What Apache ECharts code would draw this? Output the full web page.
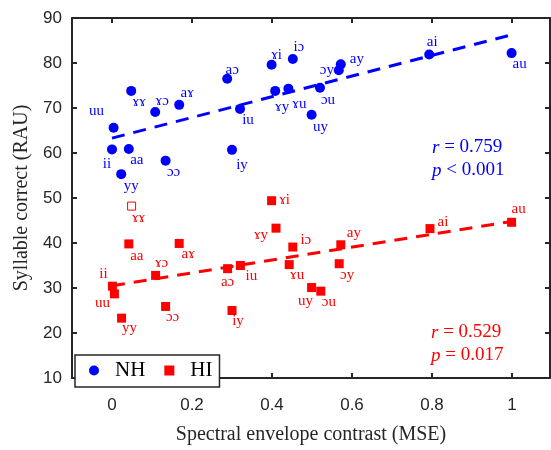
<!DOCTYPE html>
<html>
<head>
<meta charset="utf-8">
<script src="https://cdn.jsdelivr.net/npm/echarts@6/dist/echarts.min.js"></script>
<style>html,body{margin:0;padding:0;background:#fff;}#chart{width:551px;height:450px;}</style>
</head>
<body>
<div id="chart"></div>
<script>
// ---- data ----
const nhLabels = ['ɤɤ','ɤɔ','aɤ','uu','ii','aa','ɔɔ','yy','iy','iu','aɔ','ɤi','iɔ','ay','ɔy','ɤy','ɤu','ɔu','uy','ai','au'];
const nhX = [0.048,0.108,0.168,0.004,0.000,0.042,0.134,0.023,0.300,0.320,0.288,0.399,0.452,0.572,0.567,0.408,0.441,0.520,0.499,0.793,0.999];
const nhY = [73.8,69.1,70.7,65.6,60.8,60.9,58.3,55.3,60.7,69.8,76.5,79.6,80.9,79.7,78.4,73.8,74.3,74.5,68.5,81.9,82.2];

const hiLabels = ['ɤɤ','aa','aɤ','ɤɔ','ii','uu','yy','ɔɔ','aɔ','iu','iy','ɤi','ɤy','iɔ','ɤu','ay','ɔy','uy','ɔu','ai','au'];
const hiX = [0.049,0.042,0.168,0.109,0.001,0.006,0.024,0.134,0.289,0.321,0.300,0.399,0.410,0.452,0.443,0.572,0.568,0.499,0.522,0.795,0.999];
const hiY = [48.2,39.8,39.9,32.8,30.4,28.7,23.3,25.9,34.3,35.0,25.0,49.4,43.3,39.1,35.2,39.6,35.4,30.1,29.3,43.2,44.6];
const hiOpen = ['ɤɤ']; // hollow marker

const nhFit = [[0, 63.3], [1, 86.3]];
const hiFit = [[0, 30.5], [1, 44.8]];

const xTicks = [0, 0.2, 0.4, 0.6, 0.8, 1];
const yTicks = [10, 20, 30, 40, 50, 60, 70, 80, 90];

// ---- label placement (pixel offsets, label centre relative to marker) ----
const nhOffsets = [[8,11],[7,-11],[8,-12],[-17,-17],[-5,15],[8,11],[8,11],[10,12],[10,15],[8,11],[5,-9],[5,-10],[6,-12],[16,-5],[-12,0],[7,16],[11,15],[8,12],[9,12],[3,-12],[8,11]];
const hiOffsets = [[7,12],[8,12],[9,11],[6,-12],[-9,-12],[-12,9],[8,10],[7,11],[0,13],[11,11],[6,11],[13,-1],[-15,7],[13,-7],[8,10],[13,-12],[8,11],[-6,14],[8,11],[13,-7],[7,-13]];

const BLUE = '#0000FF', RED = '#FF0000', AX = '#262626';
const SERIF = '"Liberation Serif","Times New Roman",serif';
const SANS = '"Liberation Sans",Arial,Helvetica,sans-serif';

function buildData(xs, ys, names, offs, color, openSet) {
  return xs.map((x, i) => {
    const item = {
      name: names[i],
      value: [x, ys[i]],
      label: { offset: offs[i] }
    };
    if (openSet && openSet.indexOf(names[i]) >= 0) {
      item.itemStyle = { color: '#fff', borderColor: color, borderWidth: 1 };
      item.symbolSize = 8;
    }
    return item;
  });
}

const labelBase = (color) => ({
  show: true, position: 'inside', formatter: p => p.name,
  color: color, fontFamily: SERIF, fontSize: 15
});

const chart = echarts.init(document.getElementById('chart'), null, { renderer: 'canvas' });
const axisCommon = {
  type: 'value',
  splitLine: { show: false },
  axisLine: { show: true, onZero: false, lineStyle: { color: AX, width: 2 } },
  axisTick: { show: true, inside: true, length: 5, lineStyle: { color: AX, width: 2 } }
};
chart.setOption({
  animation: false,
  backgroundColor: '#fff',
  grid: { left: 72, right: 1, top: 18, bottom: 65, containLabel: false },
  xAxis: [
    Object.assign({}, axisCommon, {
      position: 'bottom', min: -0.1, max: 1.095,
      axisTick: Object.assign({}, axisCommon.axisTick, { customValues: xTicks }),
      axisLabel: { customValues: xTicks, formatter: v => String(v), margin: 19, fontSize: 17, color: AX, fontFamily: SANS },
      name: 'Spectral envelope contrast (MSE)', nameLocation: 'middle', nameGap: 47,
      nameTextStyle: { fontFamily: SERIF, fontSize: 20, color: AX }
    }),
    Object.assign({}, axisCommon, {
      position: 'top', min: -0.1, max: 1.095,
      axisTick: Object.assign({}, axisCommon.axisTick, { customValues: xTicks }),
      axisLabel: { show: false }
    })
  ],
  yAxis: [
    Object.assign({}, axisCommon, {
      position: 'left', min: 10, max: 90, interval: 10,
      axisLabel: { margin: 10, fontSize: 17, color: AX, fontFamily: SANS },
      name: 'Syllable correct (RAU)', nameLocation: 'middle', nameGap: 36,
      nameTextStyle: { fontFamily: SERIF, fontSize: 20, color: AX }
    }),
    Object.assign({}, axisCommon, {
      position: 'right', min: 10, max: 90, interval: 10,
      axisLabel: { show: false }
    })
  ],
  legend: {
    left: 75, top: 355, orient: 'horizontal',
    backgroundColor: '#fff', borderColor: AX, borderWidth: 1.5,
    padding: [5, 7, 6, 14], itemGap: 19, itemWidth: 10, itemHeight: 10,
    textStyle: { fontFamily: SERIF, fontSize: 21, color: '#000', padding: [0, 0, 0, 11] },
    data: [{ name: 'NH', icon: 'circle' }, { name: 'HI', icon: 'rect' }]
  },
  series: [
    {
      name: 'NH fit', type: 'line', data: nhFit, symbol: 'none', silent: true,
      lineStyle: { color: BLUE, width: 3, type: [13, 9] }, z: 1
    },
    {
      name: 'HI fit', type: 'line', data: hiFit, symbol: 'none', silent: true,
      lineStyle: { color: RED, width: 3, type: [13, 9] }, z: 1
    },
    {
      name: 'NH', type: 'scatter', symbol: 'circle', symbolSize: 10,
      itemStyle: { color: BLUE, opacity: 1 },
      label: labelBase(BLUE),
      data: buildData(nhX, nhY, nhLabels, nhOffsets, BLUE, null), z: 3
    },
    {
      name: 'HI', type: 'scatter', symbol: 'rect', symbolSize: 9,
      itemStyle: { color: RED, opacity: 1 },
      label: labelBase(RED),
      data: buildData(hiX, hiY, hiLabels, hiOffsets, RED, hiOpen), z: 3
    }
  ],
  graphic: [
    { type: 'text', left: 432, top: 138, style: { text: '{i|r} = 0.759', fill: BLUE, font: '19px ' + SERIF, rich: { i: { fontStyle: 'italic', fontFamily: SERIF, fontSize: 19, fill: BLUE } } } },
    { type: 'text', left: 432, top: 161, style: { text: '{i|p} < 0.001', fill: BLUE, font: '19px ' + SERIF, rich: { i: { fontStyle: 'italic', fontFamily: SERIF, fontSize: 19, fill: BLUE } } } },
    { type: 'text', left: 431, top: 323, style: { text: '{i|r} = 0.529', fill: RED, font: '19px ' + SERIF, rich: { i: { fontStyle: 'italic', fontFamily: SERIF, fontSize: 19, fill: RED } } } },
    { type: 'text', left: 431, top: 346, style: { text: '{i|p} = 0.017', fill: RED, font: '19px ' + SERIF, rich: { i: { fontStyle: 'italic', fontFamily: SERIF, fontSize: 19, fill: RED } } } }
  ]
});
</script>
</body>
</html>
